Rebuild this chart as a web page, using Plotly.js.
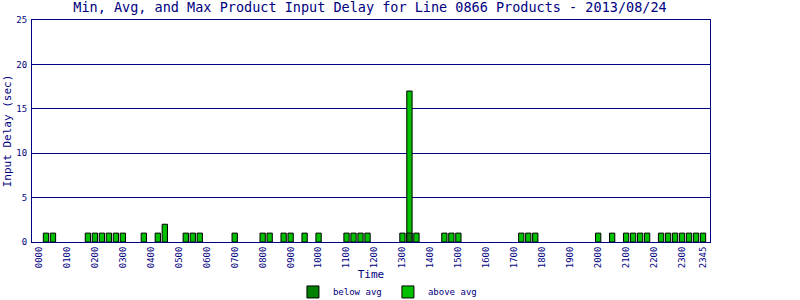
<!DOCTYPE html>
<html>
<head>
<meta charset="utf-8">
<script src="https://cdn.plot.ly/plotly-3.0.1.min.js"></script>
<style>html,body{margin:0;padding:0;background:#fff;}#chart{width:800px;height:300px;}</style>
</head>
<body>
<div id="chart"></div>
<script>
const times = [
  "0000","0015","0030","0045","0100","0115","0130","0145",
  "0200","0215","0230","0245","0300","0315","0330","0345",
  "0400","0415","0430","0445","0500","0515","0530","0545",
  "0600","0615","0630","0645","0700","0715","0730","0745",
  "0800","0815","0830","0845","0900","0915","0930","0945",
  "1000","1015","1030","1045","1100","1115","1130","1145",
  "1200","1215","1230","1245","1300","1315","1330","1345",
  "1400","1415","1430","1445","1500","1515","1530","1545",
  "1600","1615","1630","1645","1700","1715","1730","1745",
  "1800","1815","1830","1845","1900","1915","1930","1945",
  "2000","2015","2030","2045","2100","2115","2130","2145",
  "2200","2215","2230","2245","2300","2315","2330","2345"
];
const tickLabels = ["0000","0100","0200","0300","0400","0500","0600","0700","0800","0900","1000","1100",
  "1200","1300","1400","1500","1600","1700","1800","1900","2000","2100","2200","2300","2345"];

const aboveAvg = [
  null,1,1,null,null,null,null,1,
  1,1,1,1,1,null,null,1,
  null,1,2,null,null,1,1,1,
  null,null,null,null,1,null,null,null,
  1,1,null,1,1,null,1,null,
  1,null,null,null,1,1,1,1,
  null,null,null,null,1,17,1,null,
  null,null,1,1,1,null,null,null,
  null,null,null,null,null,1,1,1,
  null,null,null,null,null,null,null,null,
  1,null,1,null,1,1,1,1,
  null,1,1,1,1,1,1,1
];
const belowAvg = times.map(t => t === "1315" ? 1 : null);

const navy = "#000080";
const mono = "DejaVu Sans Mono, monospace";

const traces = [
  {type:"bar", name:"above avg", x:times, y:aboveAvg, width:0.76,
   marker:{color:"#00c000", line:{color:"#000000", width:1}}, hoverinfo:"x+y"},
  {type:"bar", name:"below avg", x:times, y:belowAvg, width:0.76,
   marker:{color:"#008000", line:{color:"#000000", width:1}}, hoverinfo:"x+y"}
];

const layout = {
  width:800, height:300,
  margin:{l:31.5, r:90, t:20, b:58, autoexpand:false},
  paper_bgcolor:"#ffffff", plot_bgcolor:"#ffffff",
  barmode:"overlay",
  font:{family:mono, color:navy, size:9},
  title:{text:"Min, Avg, and Max Product Input Delay for Line 0866 Products - 2013/08/24",
    font:{family:mono, size:13.5, color:navy}, x:0.4625, xanchor:"center", y:0.99, yanchor:"top"},
  xaxis:{type:"category", range:[-1,96], tickmode:"array", tickvals:tickLabels, ticktext:tickLabels,
    tickangle:-90, ticks:"", showgrid:false, showline:true, linecolor:navy, linewidth:1, mirror:true,
    tickfont:{family:mono, size:9, color:navy}, zeroline:false, automargin:false,
    title:{text:"Time", font:{family:mono, size:11, color:navy}, standoff:2}},
  yaxis:{range:[0,25], tickvals:[0,5,10,15,20,25], ticks:"", showgrid:true, gridcolor:navy, gridwidth:1,
    showline:true, linecolor:navy, linewidth:1, mirror:true, zeroline:false, automargin:false,
    tickfont:{family:mono, size:9, color:navy}, ticklabelstandoff:2,
    title:{text:"Input Delay (sec)", font:{family:mono, size:11, color:navy}, standoff:2}},
  showlegend:true,
  legend:{orientation:"h", x:0.525, xanchor:"center", y:-0.225, yanchor:"middle", traceorder:"reversed",
    font:{family:mono, size:9, color:navy}, itemwidth:30, entrywidth:50, entrywidthmode:"pixels",
    bgcolor:"rgba(0,0,0,0)"}
};

Plotly.newPlot("chart", traces, layout, {displayModeBar:false, staticPlot:true});
</script>
</body>
</html>
